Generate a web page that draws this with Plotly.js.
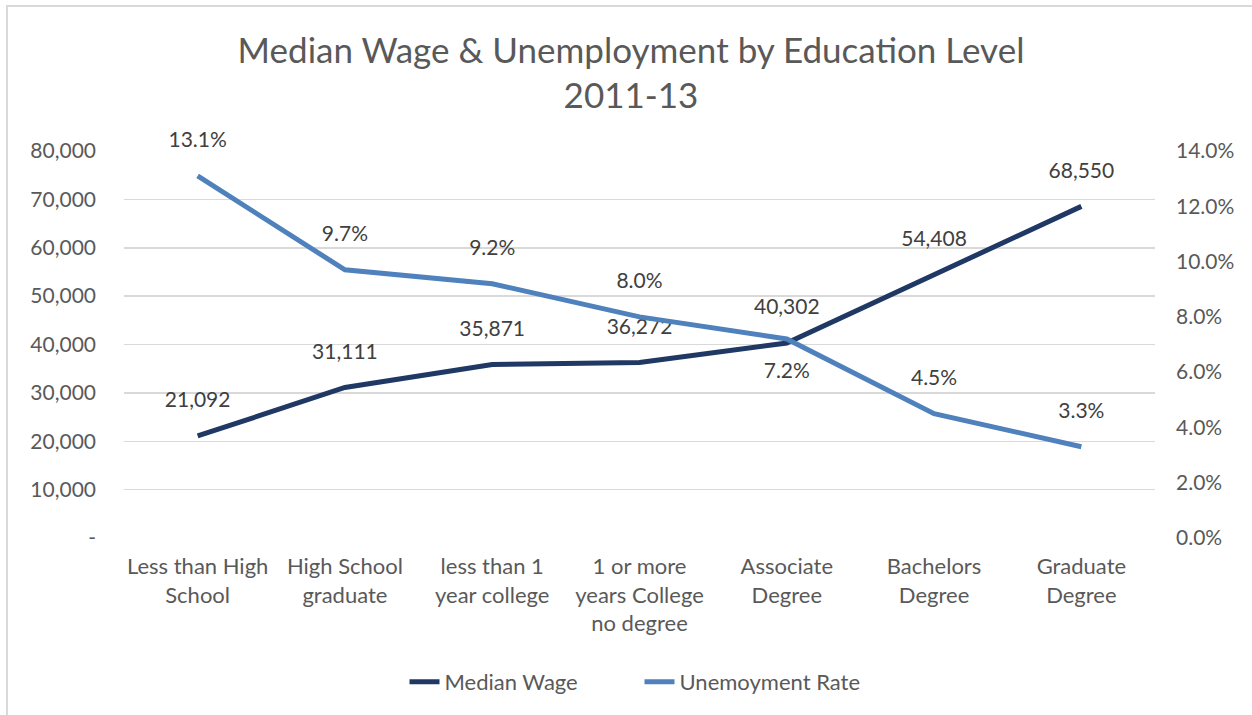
<!DOCTYPE html>
<html>
<head>
<meta charset="utf-8">
<script src="https://cdn.plot.ly/plotly-3.0.1.min.js"></script>
<style>
html,body{margin:0;padding:0;background:#fff;}
#wrap{position:relative;width:1252px;height:715px;overflow:hidden;}
#chart{position:absolute;left:0;top:0;width:1252px;height:715px;}
#frame{position:absolute;left:6px;top:5px;width:1260px;height:720px;border-top:2px solid #d9d9d9;border-left:2px solid #d9d9d9;pointer-events:none;}
</style>
</head>
<body>
<div id="wrap"><div id="chart"></div><div id="frame"></div></div>
<script>
const categories = [
  "Less than High<br>School",
  "High School<br>graduate",
  "less than 1<br>year college",
  "1 or more<br>years College<br>no degree",
  "Associate<br>Degree",
  "Bachelors<br>Degree",
  "Graduate<br>Degree"
];
const medianWage = [21092, 31111, 35871, 36272, 40302, 54408, 68550];
const unemploymentRate = [0.131, 0.097, 0.092, 0.080, 0.072, 0.045, 0.033];
const wageLabelPos = ["top center","top center","top center","top center","top center","top center","top center"];
const rateLabelPos = ["top center","top center","top center","top center","bottom center","top center","top center"];
const leftTickVals = [0, 10000, 20000, 30000, 40000, 50000, 60000, 70000, 80000];
const leftTickText = ["-", "10,000", "20,000", "30,000", "40,000", "50,000", "60,000", "70,000", "80,000"];
const rightTickVals = [0, 0.02, 0.04, 0.06, 0.08, 0.10, 0.12, 0.14];
const rightTickText = ["0.0%", "2.0%", "4.0%", "6.0%", "8.0%", "10.0%", "12.0%", "14.0%"];

const FONT = "Lato, 'Open Sans', sans-serif";
const txt = "#595959";

const traces = [
  {
    x: categories, y: medianWage, name: "Median Wage", type: "scatter",
    mode: "lines+markers+text", line: {color: "#1f3864", width: 5},
    marker: {size: 36, color: "rgba(0,0,0,0)"},
    texttemplate: "%{y:,}", textposition: wageLabelPos,
    textfont: {family: FONT, size: 21, color: "#404040"},
    cliponaxis: false, yaxis: "y"
  },
  {
    x: categories, y: unemploymentRate, name: "Unemoyment Rate", type: "scatter",
    mode: "lines+markers+text", line: {color: "#4f81bd", width: 5},
    marker: {size: 36, color: "rgba(0,0,0,0)"},
    texttemplate: "%{y:.1%}", textposition: rateLabelPos,
    textfont: {family: FONT, size: 21, color: "#404040"},
    cliponaxis: false, yaxis: "y2"
  }
];

const layout = {
  width: 1252, height: 715,
  margin: {l: 124, r: 97, t: 151, b: 177},
  paper_bgcolor: "#fff", plot_bgcolor: "#fff",
  font: {family: FONT, color: txt, size: 21},
  title: {
    text: "Median Wage & Unemployment by Education Level<br>2011-13",
    font: {family: FONT, size: 35, color: txt},
    x: 0.504, xanchor: "center", y: 0.912, yanchor: "middle"
  },
  showlegend: true,
  legend: {
    orientation: "h", x: 0.5, xanchor: "center", y: -0.372, yanchor: "middle",
    font: {family: FONT, size: 22, color: txt},
    entrywidth: 190, entrywidthmode: "pixels", itemwidth: 30
  },
  xaxis: {
    type: "category", range: [-0.5, 6.5], showgrid: false, zeroline: false, showline: false,
    ticks: "", tickfont: {family: FONT, size: 22, color: txt},
    ticklabelstandoff: 13, fixedrange: true
  },
  yaxis: {
    range: [0, 80000], tickvals: leftTickVals, ticktext: leftTickText,
    showgrid: true, gridcolor: "#d9d9d9", gridwidth: 1.5,
    zeroline: false, showline: false, ticks: "",
    tickfont: {family: FONT, size: 21, color: txt},
    ticklabelstandoff: 27
  },
  yaxis2: {
    range: [0, 0.14], tickvals: rightTickVals, ticktext: rightTickText,
    overlaying: "y", side: "right", showgrid: false, zeroline: false,
    showline: false, ticks: "",
    tickfont: {family: FONT, size: 21, color: txt},
    ticklabelstandoff: 20
  }
};

Plotly.newPlot("chart", traces, layout, {displayModeBar: false, staticPlot: true});
</script>
</body>
</html>
